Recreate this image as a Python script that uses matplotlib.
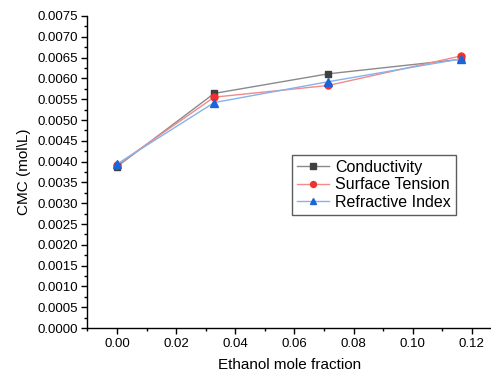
import matplotlib
matplotlib.use("Agg")
import matplotlib.pyplot as plt
from matplotlib.ticker import MultipleLocator, FormatStrFormatter

plt.rcParams['font.family'] = ['Liberation Sans', 'DejaVu Sans']

x = [0.0, 0.0329, 0.0714, 0.1164]
conductivity = [0.00388, 0.00564, 0.00611, 0.00646]
surface_tension = [0.00392, 0.00555, 0.00583, 0.00654]
refractive_index = [0.00394, 0.00542, 0.00592, 0.00647]

fig = plt.figure(figsize=(4.91, 3.72), dpi=100)
ax = fig.add_axes([0.178, 0.118, 0.822, 0.839])

ax.plot(x, conductivity, color='#8a8a8a', lw=1.0, marker='s', ms=5,
        mfc='#404040', mec='#404040', label='Conductivity')
ax.plot(x, surface_tension, color='#f28a8a', lw=1.0, marker='o', ms=5,
        mfc='#f23030', mec='#f23030', label='Surface Tension')
ax.plot(x, refractive_index, color='#86b2ee', lw=1.0, marker='^', ms=5.5,
        mfc='#1a66d9', mec='#1a66d9', label='Refractive Index')

ax.set_xlim(-0.01, 0.1265)
ax.set_ylim(0, 0.0075)
ax.xaxis.set_major_locator(MultipleLocator(0.02))
ax.xaxis.set_minor_locator(MultipleLocator(0.01))
ax.yaxis.set_major_locator(MultipleLocator(0.0005))
ax.yaxis.set_minor_locator(MultipleLocator(0.00025))
ax.xaxis.set_major_formatter(FormatStrFormatter('%.2f'))
ax.yaxis.set_major_formatter(FormatStrFormatter('%.4f'))

ax.spines['top'].set_visible(False)
ax.spines['right'].set_visible(False)
for s in ('left', 'bottom'):
    ax.spines[s].set_linewidth(1.0)
    ax.spines[s].set_color('black')

ax.tick_params(axis='both', which='major', direction='out', length=4, width=1,
               labelsize=9.5, pad=3)
ax.tick_params(axis='both', which='minor', direction='out', length=2.5, width=1)

ax.set_xlabel('Ethanol mole fraction', fontsize=11, labelpad=6)
ax.set_ylabel('CMC (mol\\L)', fontsize=11, labelpad=4)

leg = ax.legend(loc='upper left', bbox_to_anchor=(0.507, 0.554), fontsize=11.5,
                frameon=True, fancybox=False, handlelength=2.0,
                borderpad=0.3, labelspacing=0.15, handletextpad=0.4,
                borderaxespad=0, markerscale=0.85)
leg.get_frame().set_edgecolor('#333333')
leg.get_frame().set_linewidth(1.0)

fig.savefig('out.png', dpi=100)
